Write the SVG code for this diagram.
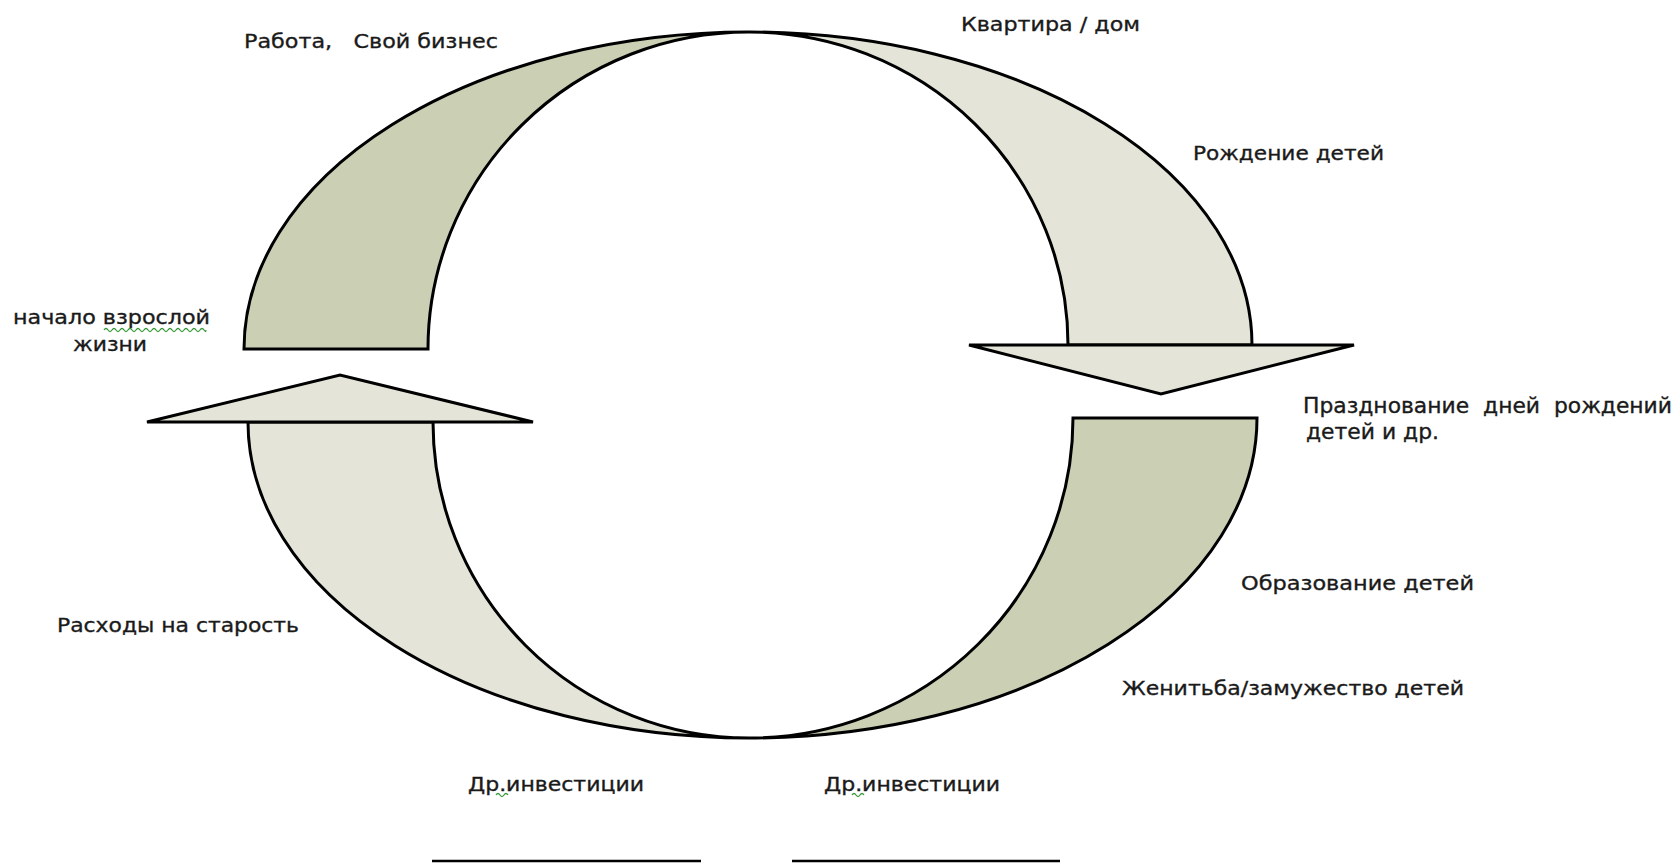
<svg xmlns="http://www.w3.org/2000/svg" width="1678" height="866" viewBox="0 0 1678 866">
<style>
.dark{fill:#CBCFB4;stroke:#000;stroke-width:3;stroke-linejoin:miter}
.light{fill:#E4E5D8;stroke:#000;stroke-width:3;stroke-linejoin:miter}
.t{font-family:"DejaVu Sans","Noto Sans",sans-serif;font-size:20px;fill:#1a1a1a;stroke:#1a1a1a;stroke-width:0.35;white-space:pre}
.t2{font-family:"DejaVu Sans","Noto Sans",sans-serif;font-size:21px;fill:#1a1a1a;stroke:#1a1a1a;stroke-width:0.35;white-space:pre}
.sq{fill:none;stroke:#3a9a3a;stroke-width:1.3}
.ul{stroke:#000;stroke-width:2.5}
</style>
<rect width="1678" height="866" fill="#fff"/>
<g id="arrow-top-left">
<path class="dark" d="M244,349 A505,317 0 0 1 749,32 A321,317 0 0 0 428,349 Z"/>
</g>
<g id="arrow-top-right">
<path class="light" d="M749,32 A503,313 0 0 1 1252,345 L1068,345 A319,313 0 0 0 749,32 Z"/>
<path class="light" d="M969,345 L1354,345 L1161,394 Z"/>
</g>
<g id="arrow-bottom-left">
<path class="light" d="M248,422 A501,316 0 0 0 749,738 A316,316 0 0 1 433,422 Z"/>
<path class="light" d="M147,422 L533,422 L340,375 Z"/>
</g>
<g id="arrow-bottom-right">
<path class="dark" d="M1073,418 L1257,418 A508,320 0 0 1 749,738 A324,320 0 0 0 1073,418 Z"/>
</g>
<g id="connectors"></g>
<g id="labels">
<text class="t" x="244" y="48" textLength="254" lengthAdjust="spacingAndGlyphs">Работа,   Свой бизнес</text>
<text class="t" x="961" y="31" textLength="179" lengthAdjust="spacingAndGlyphs">Квартира / дом</text>
<text class="t" x="1193" y="160" textLength="191" lengthAdjust="spacingAndGlyphs">Рождение детей</text>
<text class="t" x="13" y="324" textLength="197" lengthAdjust="spacingAndGlyphs">начало взрослой</text>
<path class="sq" d="M104,330 q2,-3 4,0 t4,0 t4,0 t4,0 t4,0 t4,0 t4,0 t4,0 t4,0 t4,0 t4,0 t4,0 t4,0 t4,0 t4,0 t4,0 t4,0 t4,0 t4,0 t4,0 t4,0 t4,0 t4,0 t4,0 t4,0 t2,0"/>
<text class="t" x="73" y="351" textLength="74" lengthAdjust="spacingAndGlyphs">жизни</text>
<text class="t2" x="1303" y="413" textLength="369" lengthAdjust="spacingAndGlyphs">Празднование  дней  рождений</text>
<text class="t2" x="1306" y="439" textLength="133" lengthAdjust="spacingAndGlyphs">детей и др.</text>
<text class="t" x="1241" y="590" textLength="233" lengthAdjust="spacingAndGlyphs">Образование детей</text>
<text class="t" x="57" y="632" textLength="242" lengthAdjust="spacingAndGlyphs">Расходы на старость</text>
<text class="t" x="1122" y="695" textLength="342" lengthAdjust="spacingAndGlyphs">Женитьба/замужество детей</text>
<text class="t" x="468" y="791" textLength="176" lengthAdjust="spacingAndGlyphs">Др.инвестиции</text>
<path class="sq" d="M496,795 q2,-3 4,0 t4,0 t4,0"/>
<text class="t" x="824" y="791" textLength="176" lengthAdjust="spacingAndGlyphs">Др.инвестиции</text>
<path class="sq" d="M852,795 q2,-3 4,0 t4,0 t4,0"/>
<line class="ul" x1="432" y1="861" x2="701" y2="861"/>
<line class="ul" x1="792" y1="861" x2="1060" y2="861"/>
</g>
</svg>
